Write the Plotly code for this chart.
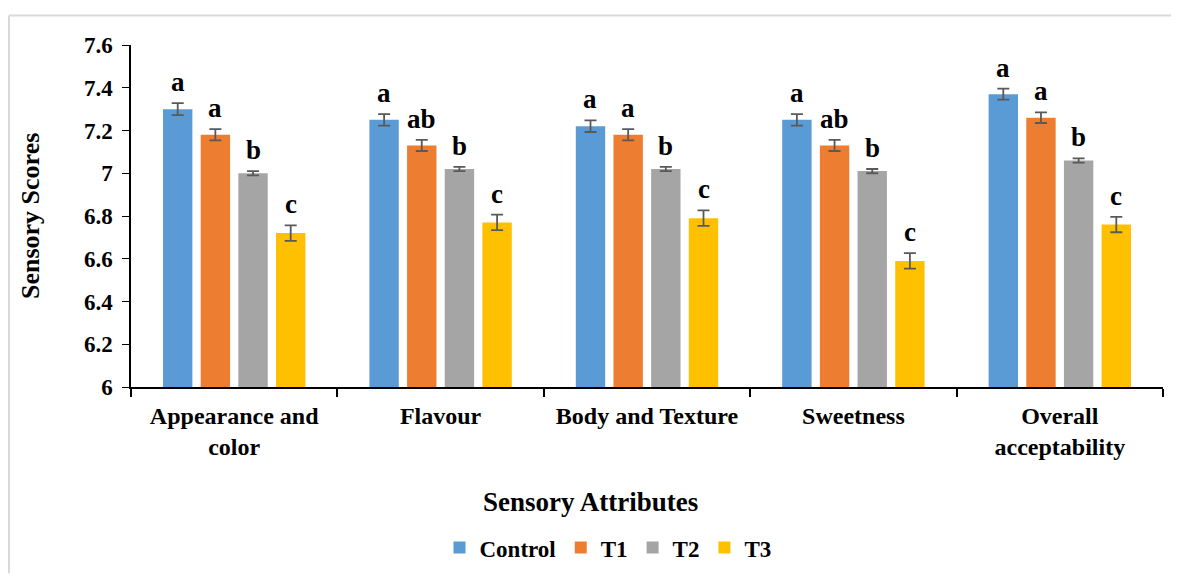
import plotly.graph_objects as go

categories = ["Appearance and<br>color", "Flavour", "Body and Texture", "Sweetness", "Overall<br>acceptability"]
series_names = ["Control", "T1", "T2", "T3"]
control = [7.30, 7.25, 7.22, 7.25, 7.37]
t1 = [7.18, 7.13, 7.18, 7.13, 7.26]
t2 = [7.00, 7.02, 7.02, 7.01, 7.06]
t3 = [6.72, 6.77, 6.79, 6.59, 6.76]
err_control = [0.028, 0.027, 0.027, 0.027, 0.026]
err_t1 = [0.026, 0.026, 0.026, 0.026, 0.025]
err_t2 = [0.010, 0.010, 0.010, 0.010, 0.010]
err_t3 = [0.036, 0.036, 0.036, 0.036, 0.036]
letters_control = ["a", "a", "a", "a", "a"]
letters_t1 = ["a", "ab", "a", "ab", "a"]
letters_t2 = ["b", "b", "b", "b", "b"]
letters_t3 = ["c", "c", "c", "c", "c"]
y_ticks = [6, 6.2, 6.4, 6.6, 6.8, 7, 7.2, 7.4, 7.6]
y_ticktext = ["6", "6.2", "6.4", "6.6", "6.8", "7", "7.2", "7.4", "7.6"]
x_title = "Sensory Attributes"
y_title = "Sensory Scores"

values = [control, t1, t2, t3]
errors = [err_control, err_t1, err_t2, err_t3]
letters = [letters_control, letters_t1, letters_t2, letters_t3]
colors = ["#5B9BD5", "#ED7D31", "#A5A5A5", "#FFC000"]

# page has an 8px body margin; figure is sized to fill the rest of the window
OFF = 8
W, H = 1179 - OFF, 581 - OFF
ML, MR, MT, MB = 131 - OFF, 16, 45 - OFF, 189
FONT = "'Liberation Serif', 'Times New Roman', 'DejaVu Serif', serif"
bargap = 0.27
bargroupgap = 0.22

fig = go.Figure()
for name, vals, errs, col in zip(series_names, values, errors, colors):
    fig.add_trace(go.Bar(
        name="<b>%s</b>" % name, x=categories, y=vals, marker=dict(color=col, line=dict(width=0)),
        error_y=dict(type="data", array=errs, visible=True, color="#595959", thickness=1.8, width=6),
    ))

plot_w = W - ML - MR
plot_h = H - MT - MB
slot = plot_w / len(categories) * (1 - bargap) / len(series_names)
for i, (vals, errs, labs) in enumerate(zip(values, errors, letters)):
    for c, v, e, lab in zip(categories, vals, errs, labs):
        fig.add_annotation(x=c, y=v + e, text="<b>%s</b>" % lab, showarrow=False,
                           xshift=(i - 1.5) * slot, yshift=4, yanchor="bottom",
                           font=dict(family=FONT, size=27, color="black"))

# axis titles placed as paper annotations
fig.add_annotation(xref="paper", yref="paper", x=(22 - ML) / plot_w, y=0.5, textangle=-90,
                   text="<b>%s</b>" % y_title, showarrow=False, xanchor="center", yanchor="middle",
                   font=dict(family=FONT, size=26, color="black"))
fig.add_annotation(xref="paper", yref="paper", x=(582 - ML) / plot_w, y=(H - MB - 501) / plot_h,
                   text="<b>%s</b>" % x_title, showarrow=False, xanchor="center", yanchor="middle",
                   font=dict(family=FONT, size=27, color="black"))

# outer light-gray frame (top and left edges)
x_left = (1 - ML) / plot_w
x_right = (W - ML) / plot_w
y_top = (H - MB - 7) / plot_h
y_bot = (-MB) / plot_h
fig.add_shape(type="line", xref="paper", yref="paper", x0=x_left, x1=x_right, y0=y_top, y1=y_top,
              line=dict(color="#D9D9D9", width=2))
fig.add_shape(type="line", xref="paper", yref="paper", x0=x_left, x1=x_left, y0=y_top, y1=y_bot,
              line=dict(color="#D9D9D9", width=2))

fig.update_layout(
    width=W, height=H, margin=dict(l=ML, r=MR, t=MT, b=MB),
    paper_bgcolor="white", plot_bgcolor="white",
    barmode="group", bargap=bargap, bargroupgap=bargroupgap,
    font=dict(family=FONT, color="black"),
    showlegend=True,
    legend=dict(orientation="h", x=(600 - ML) / plot_w, xanchor="center",
                y=(H - MB - 547) / plot_h, yanchor="middle",
                font=dict(family=FONT, size=23, color="black"), itemwidth=30,
                tracegroupgap=0),
    xaxis=dict(showline=True, linecolor="black", linewidth=2, ticks="outside", tickson="boundaries",
               ticklen=8, tickcolor="black", tickwidth=1.5, showgrid=False,
               tickvals=categories, ticktext=["<b>%s</b>" % c for c in categories],
               tickfont=dict(family=FONT, size=24, color="black"), ticklabelstandoff=6,
               automargin=False),
    yaxis=dict(range=[6, 7.6], tickvals=y_ticks, ticktext=["<b>%s</b>" % t for t in y_ticktext],
               showline=True, linecolor="black", linewidth=1.5, ticks="outside", ticklen=7,
               tickcolor="black", showgrid=False, zeroline=False,
               tickfont=dict(family=FONT, size=23, color="black"), ticklabelstandoff=5,
               automargin=False),
)

fig.write_html("out.html")
